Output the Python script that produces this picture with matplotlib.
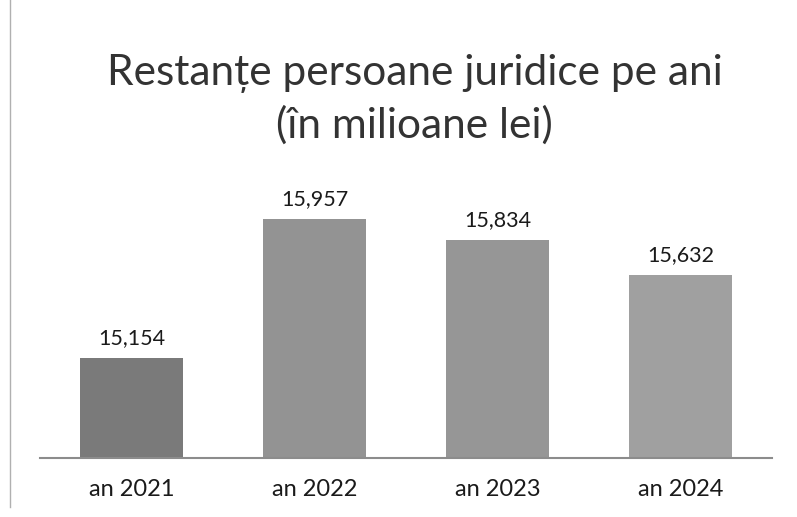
import matplotlib.pyplot as plt

# date din grafic (milioane lei)
categorii = ["an 2021", "an 2022", "an 2023", "an 2024"]
valori = [15.154, 15.957, 15.834, 15.632]
etichete = ["15,154", "15,957", "15,834", "15,632"]

culori = ["#7a7a7a", "#939393", "#969696", "#a0a0a0"]

plt.rcParams['font.family'] = ['Lato', 'DejaVu Sans']

fig = plt.figure(figsize=(7.97, 5.17), dpi=100)
ax = fig.add_axes([0.050, 0.114, 0.919, 0.545])

x = range(len(categorii))
bare = ax.bar(x, valori, width=0.56, color=culori, zorder=2)
for b, t in zip(bare, etichete):
    ax.annotate(t, (b.get_x() + b.get_width() / 2, b.get_height()),
                xytext=(0, 7), textcoords="offset points",
                ha="center", va="bottom", fontsize=15.5, color="#1a1a1a")

ax.set_ylim(14.58, 16.2)
ax.set_xlim(-0.5, 3.5)
ax.set_xticks(list(x))
ax.set_xticklabels(categorii, fontsize=17, color="#1a1a1a")
ax.tick_params(axis="x", length=0, pad=15)
ax.set_yticks([])
for s in ["top", "right", "left"]:
    ax.spines[s].set_visible(False)
ax.spines["bottom"].set_color("#8c8c8c")
ax.spines["bottom"].set_linewidth(1.5)

fig.text(0.52, 0.808, "Restanțe persoane juridice pe ani\n(în milioane lei)",
         ha="center", va="center", fontsize=30.5, color="#333333",
         linespacing=1.4)

# chenarul din stanga
fig.add_artist(plt.Line2D([0.013, 0.013], [0.02, 1.0], color="#b0b0b0", lw=1))

fig.savefig("out.png", dpi=100)
